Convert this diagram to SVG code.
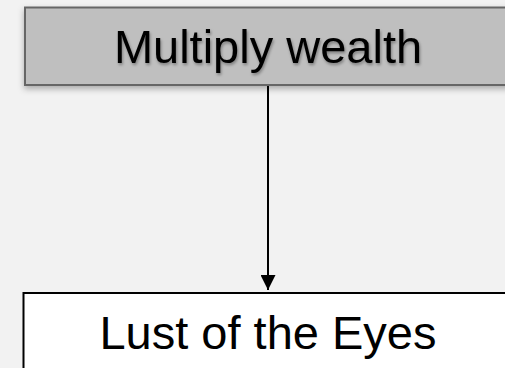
<svg xmlns="http://www.w3.org/2000/svg" width="505" height="368" viewBox="0 0 505 368">
<defs>
<filter id="sh" x="-10%" y="-20%" width="130%" height="160%">
<feDropShadow dx="0" dy="3" stdDeviation="3" flood-color="#000" flood-opacity="0.3"/>
</filter>
<filter id="tsh" x="-10%" y="-20%" width="120%" height="160%">
<feDropShadow dx="1" dy="2" stdDeviation="1.5" flood-color="#000" flood-opacity="0.35"/>
</filter>
<marker id="ah" viewBox="0 0 10 10" refX="10" refY="5" markerWidth="7.5" markerHeight="7.5" markerUnits="strokeWidth" orient="auto">
<path d="M0,0 L10,5 L0,10 Z" fill="#000"/>
</marker>
</defs>
<style>
text{font-family:"Liberation Sans",Arial,sans-serif;font-size:47px;fill:#000;text-anchor:middle}
</style>
<rect x="0" y="0" width="505" height="368" fill="#f2f2f2"/>
<g id="connectors">
<line x1="268" y1="86" x2="268" y2="290" stroke="#000" stroke-width="2" marker-end="url(#ah)"/>
</g>
<g id="node-multiply">
<rect x="25" y="7.5" width="500" height="77.5" fill="#bfbfbf" stroke="#666" stroke-width="2" filter="url(#sh)"/>
<text x="268" y="63" filter="url(#tsh)">Multiply wealth</text>
</g>
<g id="node-lust">
<rect x="23.5" y="293" width="500" height="100" fill="#fff" stroke="#000" stroke-width="2"/>
<text x="268" y="349">Lust of the Eyes</text>
</g>
</svg>
